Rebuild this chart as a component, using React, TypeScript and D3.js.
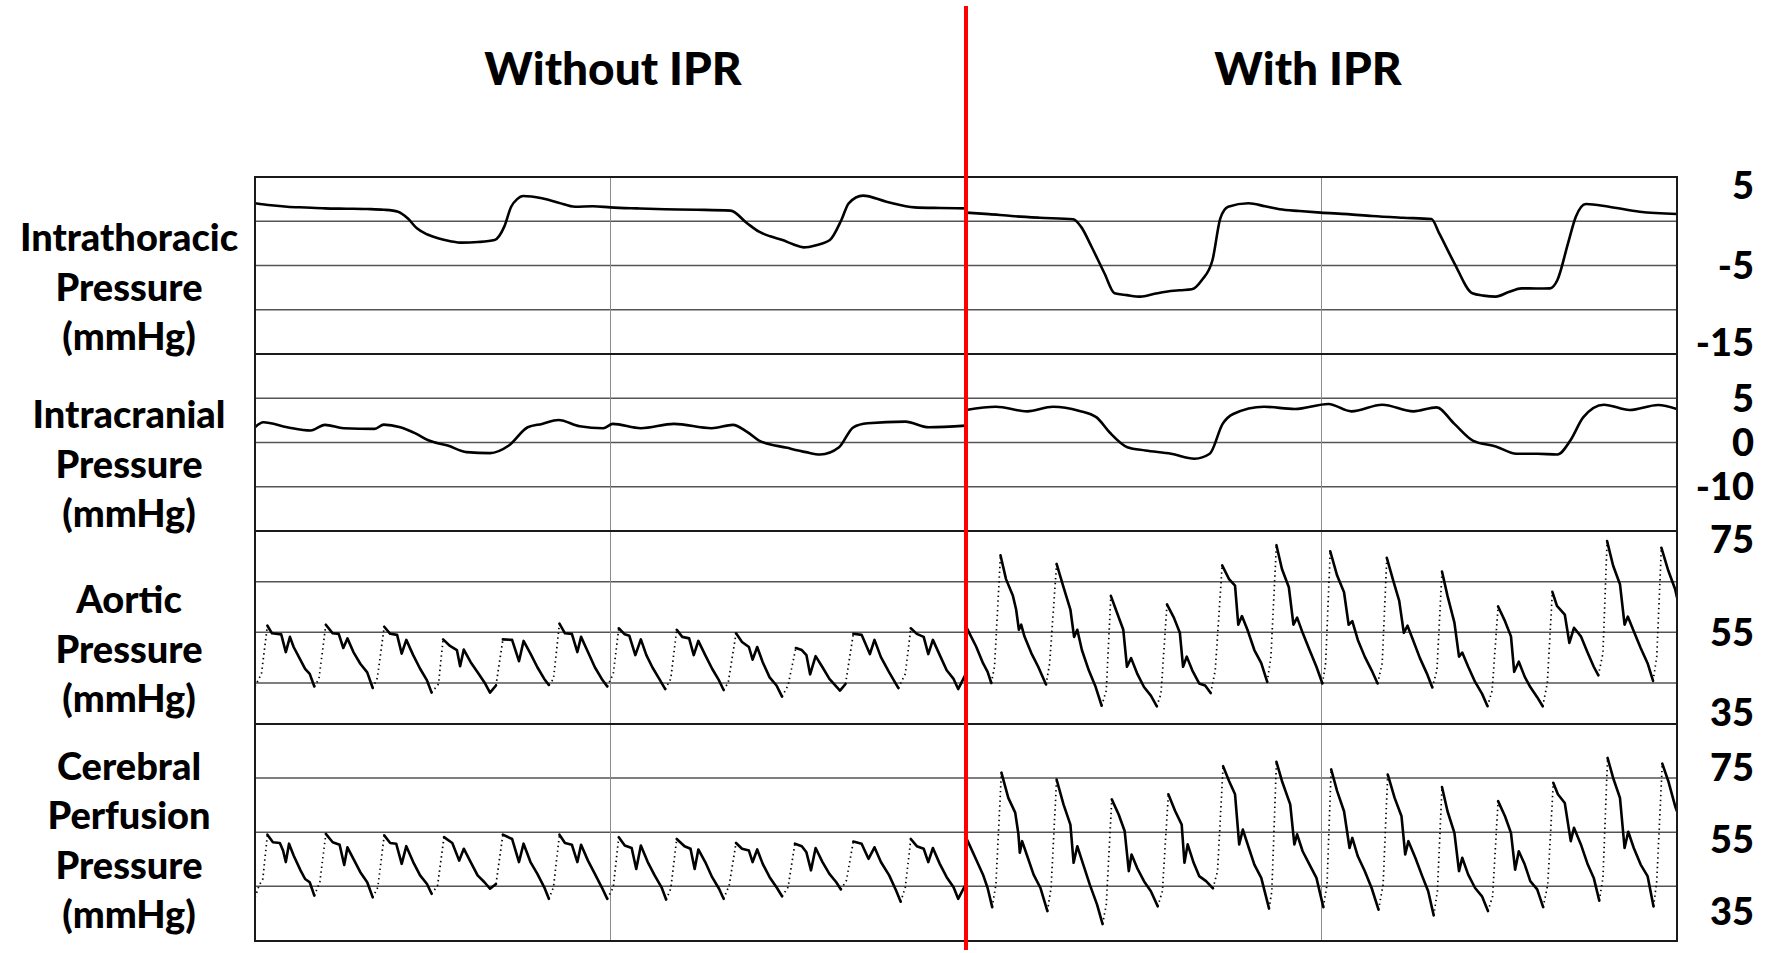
import React from "react";
import * as d3 from "d3";

type Pt = [number, number];

// ---------- DATA (time in s within each recording window, pressures in mmHg) ----------
const TIME_SPAN = 15.46;
const conditions = ["Without IPR", "With IPR"];

const itpName = ["Intrathoracic", "Pressure", "(mmHg)"];
const icpName = ["Intracranial", "Pressure", "(mmHg)"];
const aopName = ["Aortic", "Pressure", "(mmHg)"];
const cppName = ["Cerebral", "Perfusion", "Pressure", "(mmHg)"];

const itpDomain: Pt = [-15, 5];
const itpGrid = [0, -5, -10];
const itpTicks = [5, -5, -15];
const itpTickLabels = ["5", "-5", "-15"];

const icpDomain: Pt = [-10, 10];
const icpGrid = [5, 0, -5];
const icpTicks = [5, 0, -5];
const icpTickLabels = ["5", "0", "-10"];

const aopDomain: Pt = [36.9, 75];
const aopGrid = [65, 55, 45];
const aopTicks = [75, 55, 35];
const aopTickLabels = ["75", "55", "35"];

const cppDomain: Pt = [26.8, 87];
const cppGrid = [72, 57, 42];
const cppTicks = [75, 55, 35];
const cppTickLabels = ["75", "55", "35"];

const itpWithout: Pt[] = [[0,2.03],[0.35,1.8],[0.7,1.64],[1.1,1.55],[1.52,1.46],[2.0,1.42],[2.44,1.38],[2.8,1.3],[3.11,1.08],[3.32,0.33],[3.52,-0.8],[3.75,-1.5],[3.98,-1.93],[4.25,-2.25],[4.5,-2.42],[4.85,-2.35],[5.21,-2.12],[5.42,-0.61],[5.57,1.64],[5.7,2.5],[5.83,2.85],[6.24,2.59],[6.6,2.1],[6.96,1.64],[7.35,1.7],[7.73,1.57],[8.3,1.45],[8.91,1.35],[9.6,1.3],[10.34,1.2],[10.7,-0.23],[10.96,-1.18],[11.2,-1.7],[11.47,-2.12],[11.7,-2.6],[11.93,-2.95],[12.2,-2.7],[12.5,-2.12],[12.75,0.14],[12.91,2.03],[13.22,2.89],[13.73,2.21],[14.34,1.57],[14.9,1.5],[15.46,1.46]];
const itpWith: Pt[] = [[0,0.97],[0.5,0.8],[0.99,0.59],[1.6,0.4],[2.33,0.22],[2.5,-0.61],[2.73,-2.88],[3.01,-5.88],[3.23,-8.14],[3.5,-8.35],[3.79,-8.52],[4.1,-8.2],[4.35,-7.96],[4.65,-7.8],[4.91,-7.69],[5.13,-6.64],[5.36,-4.38],[5.53,0.33],[5.7,1.64],[6.14,2.03],[6.5,1.7],[6.82,1.35],[7.25,1.15],[7.71,0.97],[8.3,0.8],[8.83,0.59],[9.5,0.4],[10.12,0.25],[10.29,-1.37],[10.62,-4.75],[11.01,-8.14],[11.25,-8.4],[11.52,-8.52],[11.8,-8.0],[12.08,-7.58],[12.4,-7.6],[12.7,-7.58],[12.86,-6.64],[13.09,-2.5],[13.26,0.51],[13.48,1.95],[13.98,1.64],[14.65,1.08],[15.46,0.82]];

const icpWithout: Pt[] = [[0,1.72],[0.18,2.28],[0.7,1.72],[1.21,1.35],[1.52,1.99],[1.93,1.61],[2.6,1.54],[2.8,2.02],[3.16,1.72],[3.5,1.0],[3.78,0.22],[4.19,-0.34],[4.6,-1.09],[5.11,-1.2],[5.52,-0.34],[5.93,1.72],[6.24,2.1],[6.6,2.55],[7.06,1.83],[7.57,1.61],[7.78,2.1],[8.39,1.61],[9.11,2.1],[9.93,1.61],[10.39,1.99],[10.7,1.2],[10.96,0.22],[11.57,-0.6],[11.98,-1.09],[12.29,-1.35],[12.7,-0.53],[13.01,1.72],[13.32,2.17],[14.14,2.36],[14.65,1.72],[15.46,1.91]];
const icpWith: Pt[] = [[0,3.67],[0.65,4.04],[1.33,3.52],[1.89,4.04],[2.45,3.6],[2.84,2.84],[3.12,1.16],[3.51,-0.53],[3.9,-0.9],[4.46,-1.27],[4.97,-1.83],[5.3,-1.27],[5.58,2.1],[5.81,3.22],[6.48,4.04],[7.15,3.78],[7.88,4.35],[8.38,3.52],[9.05,4.27],[9.73,3.52],[10.23,3.97],[10.62,2.1],[11.02,0.22],[11.52,-0.45],[11.97,-1.27],[12.42,-1.27],[12.86,-1.35],[13.14,0.22],[13.42,2.84],[13.87,4.27],[14.43,3.67],[15.05,4.24],[15.46,3.78]];

const aopWithout: Pt[] = [[0,44.3],[0.14,46.8],[0.27,56.3],[0.37,54.8],[0.57,54.6],[0.67,51.1],[0.76,54.1],[0.84,52.1],[0.99,49.5],[1.09,47.8],[1.19,46.8],[1.29,44.3],[1.39,45.8],
[1.54,56.5],[1.69,54.8],[1.82,54.7],[1.92,51.9],[2.01,53.8],[2.14,51.1],[2.29,48.8],[2.44,47.1],[2.56,44.0],[2.66,46.0],
[2.81,56.1],[2.94,54.7],[3.09,54.5],[3.19,50.8],[3.29,53.5],[3.44,50.5],[3.59,47.8],[3.74,45.5],[3.84,43.1],[3.99,44.8],
[4.09,53.6],[4.24,52.3],[4.39,51.5],[4.46,48.3],[4.54,51.6],[4.69,49.1],[4.84,47.1],[4.99,45.1],[5.11,43.1],[5.24,44.5],
[5.39,53.6],[5.59,53.5],[5.74,49.3],[5.84,53.3],[5.99,50.8],[6.14,48.1],[6.29,45.8],[6.39,44.6],[6.49,45.8],
[6.62,56.7],[6.74,54.8],[6.89,54.7],[7.01,51.1],[7.09,54.1],[7.24,51.1],[7.39,48.1],[7.54,45.8],[7.66,44.3],[7.79,46.8],
[7.91,55.8],[8.04,54.6],[8.14,54.3],[8.27,50.5],[8.39,53.6],[8.51,50.5],[8.64,48.1],[8.79,45.8],[8.92,43.8],[9.04,45.8],
[9.17,55.5],[9.29,54.1],[9.44,53.8],[9.54,50.5],[9.64,53.3],[9.79,50.5],[9.94,47.8],[10.09,45.5],[10.19,43.6],[10.29,45.1],
[10.46,54.8],[10.59,53.1],[10.74,52.1],[10.82,49.6],[10.92,52.1],[11.04,49.1],[11.19,46.1],[11.34,44.5],[11.46,42.3],[11.59,44.5],
[11.76,51.9],[11.89,51.5],[11.99,50.5],[12.07,46.7],[12.19,50.3],[12.34,48.1],[12.49,45.8],[12.72,43.5],[12.84,44.8],
[13.01,54.7],[13.19,54.5],[13.37,50.7],[13.47,53.5],[13.61,50.1],[13.79,47.1],[13.99,44.0],[14.14,46.8],
[14.26,55.8],[14.39,54.7],[14.54,54.1],[14.64,50.7],[14.74,53.5],[14.89,50.5],[15.04,47.5],[15.19,45.8],[15.29,43.8],[15.44,46.5]];

const aopWith: Pt[] = [[0,56.2],[0.07,54.9],[0.22,52.2],[0.37,48.9],[0.47,47.2],[0.55,45.0],[0.62,48.2],[0.75,70.2],[0.87,65.5],[1.02,62.2],[1.09,59.5],[1.15,55.5],[1.2,56.5],[1.27,54.2],[1.42,50.9],[1.57,48.2],[1.74,44.7],[1.82,48.9],
[1.97,68.5],[2.12,63.9],[2.27,59.5],[2.35,54.1],[2.42,55.5],[2.52,51.5],[2.67,47.5],[2.82,44.2],[2.95,40.5],[3.05,43.5],
[3.15,62.2],[3.27,59.2],[3.42,55.5],[3.5,48.2],[3.59,49.9],[3.72,46.9],[3.87,44.2],[4.02,42.5],[4.15,40.4],[4.24,42.9],
[4.37,60.5],[4.52,57.9],[4.65,54.9],[4.72,48.2],[4.8,50.2],[4.92,47.5],[5.07,44.9],[5.2,44.5],[5.32,43.0],[5.42,47.5],
[5.57,68.2],[5.72,65.5],[5.85,64.2],[5.92,56.5],[6.0,58.2],[6.12,55.5],[6.27,51.5],[6.42,48.9],[6.55,45.2],[6.63,50.2],
[6.75,72.2],[6.87,67.5],[7.02,63.9],[7.12,56.5],[7.2,57.9],[7.32,54.9],[7.47,51.5],[7.62,48.2],[7.75,44.9],[7.82,48.9],
[7.92,71.0],[8.07,66.2],[8.22,62.9],[8.32,56.5],[8.4,57.2],[8.52,53.5],[8.67,50.2],[8.82,47.5],[8.95,44.9],[9.05,48.9],
[9.15,69.7],[9.29,65.2],[9.42,61.2],[9.52,54.9],[9.6,56.3],[9.72,53.5],[9.87,49.9],[10.02,46.9],[10.14,44.1],[10.24,47.5],
[10.35,67.0],[10.47,62.2],[10.62,56.9],[10.72,50.2],[10.79,51.0],[10.92,48.2],[11.07,45.2],[11.22,42.9],[11.34,40.4],[11.44,43.5],
[11.57,60.1],[11.72,57.2],[11.85,54.2],[11.92,47.2],[12.02,49.2],[12.15,46.2],[12.27,44.2],[12.42,42.2],[12.54,40.4],[12.64,44.9],
[12.75,63.0],[12.85,60.2],[13.02,58.5],[13.12,52.9],[13.22,55.9],[13.37,54.2],[13.52,50.9],[13.65,48.2],[13.75,46.5],[13.85,50.9],
[13.94,73.0],[14.07,68.2],[14.22,64.5],[14.32,56.5],[14.39,58.1],[14.52,55.2],[14.67,51.9],[14.82,48.9],[14.94,45.4],[15.02,50.2],
[15.12,71.7],[15.27,67.2],[15.42,63.5],[15.46,61.9]];

const cppWithout: Pt[] = [[0,38.9],[0.09,42.2],[0.17,44.0],[0.27,56.3],[0.39,54.2],[0.54,54.0],[0.61,51.9],[0.67,48.7],[0.74,53.8],[0.84,50.5],[0.99,46.4],[1.09,44.0],[1.19,43.1],[1.29,39.4],[1.41,43.1],
[1.54,56.5],[1.69,54.2],[1.84,53.5],[1.94,47.9],[2.01,52.8],[2.14,49.6],[2.29,45.9],[2.44,43.1],[2.56,38.9],[2.67,41.7],
[2.81,56.1],[2.94,54.0],[3.07,53.8],[3.19,48.2],[3.29,53.1],[3.44,48.7],[3.59,45.0],[3.74,42.6],[3.84,39.9],[3.97,42.2],
[4.11,55.6],[4.29,54.0],[4.44,49.1],[4.54,52.4],[4.69,48.7],[4.84,45.0],[4.99,43.1],[5.11,41.3],[5.24,42.6],
[5.39,56.3],[5.59,55.1],[5.74,48.7],[5.84,53.8],[5.99,48.7],[6.14,45.4],[6.29,41.7],[6.39,38.5],[6.49,41.7],
[6.62,56.3],[6.74,54.0],[6.89,53.5],[7.01,48.7],[7.09,53.5],[7.24,49.1],[7.39,45.4],[7.54,41.7],[7.66,38.5],[7.79,41.7],
[7.91,55.6],[8.04,53.3],[8.19,52.6],[8.29,46.8],[8.39,53.3],[8.54,48.7],[8.69,45.0],[8.84,41.7],[8.94,38.3],[9.04,41.3],
[9.17,55.1],[9.34,53.1],[9.47,52.4],[9.56,46.8],[9.64,52.2],[9.79,48.7],[9.94,44.5],[10.09,41.3],[10.19,38.5],[10.31,42.2],
[10.46,54.0],[10.59,52.4],[10.74,51.9],[10.82,48.7],[10.92,52.2],[11.04,48.2],[11.19,44.5],[11.34,41.7],[11.46,39.2],[11.59,41.7],
[11.74,53.8],[11.89,53.1],[11.99,51.4],[12.09,46.4],[12.19,52.6],[12.34,48.7],[12.49,45.4],[12.64,43.1],[12.74,41.1],[12.86,43.6],
[13.01,54.4],[13.19,53.8],[13.34,49.6],[13.47,52.8],[13.61,48.7],[13.79,45.0],[13.94,40.8],[14.04,37.7],[14.14,41.7],
[14.26,55.1],[14.39,53.1],[14.54,52.4],[14.64,48.7],[14.74,52.6],[14.89,48.2],[15.04,44.5],[15.19,41.7],[15.29,38.5],[15.44,42.2]];

const cppWith: Pt[] = [[0,55.5],[0.07,53.6],[0.22,49.4],[0.37,45.2],[0.47,41.5],[0.57,36.2],[0.65,42.5],[0.77,73.5],[0.92,66.5],[1.07,62.4],[1.14,56.4],[1.17,51.3],[1.22,54.5],[1.32,50.8],[1.47,45.2],[1.62,41.5],[1.77,35.1],[1.85,41.5],
[1.97,71.6],[2.12,64.7],[2.27,59.1],[2.34,48.5],[2.42,53.1],[2.55,48.0],[2.69,42.5],[2.85,36.9],[2.97,31.5],[3.05,36.9],
[3.17,66.1],[3.32,61.9],[3.45,57.3],[3.54,46.2],[3.6,50.8],[3.72,47.1],[3.87,43.4],[4.02,40.6],[4.17,36.4],[4.27,40.6],
[4.4,67.5],[4.55,62.8],[4.69,59.1],[4.75,48.5],[4.82,53.6],[4.95,48.5],[5.07,44.8],[5.22,43.4],[5.37,41.4],[5.47,46.2],
[5.59,75.3],[5.72,71.2],[5.85,67.5],[5.94,53.6],[6.02,57.7],[6.15,52.6],[6.27,48.0],[6.42,44.3],[6.59,35.8],[6.65,40.6],
[6.75,76.5],[6.87,71.2],[7.05,64.7],[7.14,53.6],[7.2,56.4],[7.32,51.7],[7.47,48.0],[7.62,44.3],[7.77,36.2],[7.85,42.5],
[7.94,74.4],[8.07,68.4],[8.22,62.8],[8.34,52.6],[8.4,55.4],[8.52,50.3],[8.67,46.2],[8.82,41.5],[8.97,35.5],[9.07,42.5],
[9.17,73.0],[9.32,66.5],[9.47,61.4],[9.55,50.8],[9.62,54.5],[9.77,49.9],[9.92,44.8],[10.05,40.6],[10.17,33.9],[10.25,40.6],
[10.35,69.5],[10.47,62.8],[10.62,56.8],[10.72,46.2],[10.79,49.9],[10.92,45.2],[11.07,41.5],[11.22,39.2],[11.35,35.1],[11.45,39.2],
[11.57,65.6],[11.72,61.4],[11.85,56.8],[11.94,46.6],[12.02,51.7],[12.15,48.0],[12.27,43.4],[12.42,41.1],[12.55,36.2],[12.65,42.5],
[12.77,70.7],[12.87,67.5],[13.02,65.1],[13.15,54.5],[13.22,58.2],[13.37,53.6],[13.52,48.0],[13.65,44.3],[13.77,38.0],[13.85,44.3],
[13.95,77.6],[14.07,72.1],[14.22,66.5],[14.32,52.6],[14.4,57.1],[14.52,52.6],[14.67,48.0],[14.82,44.8],[14.95,36.4],[15.02,43.4],
[15.14,76.0],[15.27,71.2],[15.42,64.2],[15.46,62.8]];

// ---------- LAYOUT / STYLE ----------
const W = 1768;
const H = 953;
const PANEL_X = [255, 966];
const PANEL_W = 711;
const ROWS = [
  { top: 177, bottom: 354 },
  { top: 354, bottom: 531 },
  { top: 531, bottom: 724 },
  { top: 724, bottom: 941 },
];
const TITLE_X = [613, 1308];
const TITLE_Y = 85;
const LABEL_CX = 129;
const LABEL_LINE = 49.5;
const LABEL_LAST_MAX = 928;
const TICK_X = 1754;
const DIVIDER_X = 966;
const FONT = "Lato, 'Noto Sans', 'DejaVu Sans', sans-serif";

const channels = [
  { name: itpName, domain: itpDomain, grid: itpGrid, ticks: itpTicks, tickLabels: itpTickLabels, series: [itpWithout, itpWith], pulsatile: false },
  { name: icpName, domain: icpDomain, grid: icpGrid, ticks: icpTicks, tickLabels: icpTickLabels, series: [icpWithout, icpWith], pulsatile: false },
  { name: aopName, domain: aopDomain, grid: aopGrid, ticks: aopTicks, tickLabels: aopTickLabels, series: [aopWithout, aopWith], pulsatile: true },
  { name: cppName, domain: cppDomain, grid: cppGrid, ticks: cppTicks, tickLabels: cppTickLabels, series: [cppWithout, cppWith], pulsatile: true },
];

type Run = { steep: boolean; pts: Pt[] };

// Systolic upstrokes (large monotonic rises) are drawn as sparse sample dots, like the recorder does.
function splitRuns(data: Pt[], x: d3.ScaleLinear<number, number>, y: d3.ScaleLinear<number, number>, pulsatile: boolean): Run[] {
  const px: Pt[] = data.map((d) => [x(d[0]), y(d[1])]);
  const n = px.length;
  const steep: boolean[] = new Array(Math.max(0, n - 1)).fill(false);
  if (pulsatile) {
    let i = 0;
    while (i < n - 1) {
      if (px[i + 1][1] < px[i][1]) {
        let j = i;
        while (j < n - 1 && px[j + 1][1] < px[j][1]) j++;
        const total = px[i][1] - px[j][1];
        if (total > 30) {
          for (let k = i; k < j; k++) {
            const rise = px[k][1] - px[k + 1][1];
            if (rise > 1.2 * (px[k + 1][0] - px[k][0])) steep[k] = true;
          }
        }
        i = j;
      } else i++;
    }
  }
  const runs: Run[] = [];
  for (let k = 0; k < n - 1; k++) {
    const last = runs[runs.length - 1];
    if (last && last.steep === steep[k]) last.pts.push(px[k + 1]);
    else runs.push({ steep: steep[k], pts: [px[k], px[k + 1]] });
  }
  return runs;
}

const straight = d3.line<Pt>().x((d) => d[0]).y((d) => d[1]);
const smooth = d3.line<Pt>().x((d) => d[0]).y((d) => d[1]).curve(d3.curveMonotoneX);

export default function App() {
  return (
    <svg
      width={W}
      height={H}
      viewBox={`0 0 ${W} ${H}`}
      style={{ position: "absolute", left: 0, top: 0, background: "#fff" }}
      fontFamily={FONT}
      fontWeight={900}
    >
      <defs>
        {channels.map((ch, r) =>
          PANEL_X.map((px, c) => (
            <clipPath id={`clip-${r}-${c}`} key={`cp-${r}-${c}`}>
              <rect x={px} y={ROWS[r].top} width={PANEL_W} height={ROWS[r].bottom - ROWS[r].top} />
            </clipPath>
          ))
        )}
      </defs>

      {conditions.map((t, i) => (
        <text key={t} x={TITLE_X[i]} y={TITLE_Y} textAnchor="middle" fontSize={46} fill="#000">
          {t}
        </text>
      ))}

      {channels.map((ch, r) => {
        const row = ROWS[r];
        const y = d3.scaleLinear().domain(ch.domain).range([row.bottom, row.top]);
        const lineGen = ch.pulsatile ? straight : smooth;
        return (
          <g key={`ch-${r}`}>
            {PANEL_X.map((px, c) => {
              const x = d3.scaleLinear().domain([0, TIME_SPAN]).range([px, px + PANEL_W]);
              const runs = splitRuns(ch.series[c], x, y, ch.pulsatile);
              const mid = x(TIME_SPAN / 2);
              return (
                <g key={`p-${r}-${c}`}>
                  {ch.grid.map((g) => (
                    <line key={g} x1={px} x2={px + PANEL_W} y1={y(g)} y2={y(g)} stroke="#555" strokeWidth={1.5} />
                  ))}
                  <line x1={mid} x2={mid} y1={row.top} y2={row.bottom} stroke="#8c8c8c" strokeWidth={1} />
                  <g clipPath={`url(#clip-${r}-${c})`}>
                    {runs.map((run, k) => (
                      <path
                        key={k}
                        d={lineGen(run.pts) || ""}
                        fill="none"
                        stroke="#000"
                        strokeWidth={run.steep ? 1.7 : 2.6}
                        strokeDasharray={run.steep ? "1.4 3.4" : undefined}
                        strokeLinejoin="round"
                        strokeLinecap={run.steep ? "butt" : "round"}
                      />
                    ))}
                  </g>
                  <rect x={px} y={row.top} width={PANEL_W} height={row.bottom - row.top} fill="none" stroke="#1a1a1a" strokeWidth={2} />
                </g>
              );
            })}

            {(() => {
              const n = ch.name.length;
              const center = (row.top + row.bottom) / 2;
              let first = center + 35 - LABEL_LINE;
              const lastB = first + (n - 1) * LABEL_LINE;
              if (lastB > LABEL_LAST_MAX) first -= lastB - LABEL_LAST_MAX;
              return ch.name.map((s, i) => (
                <text key={s + i} x={LABEL_CX} y={first + i * LABEL_LINE} textAnchor="middle" fontSize={38} fill="#000">
                  {s}
                </text>
              ));
            })()}

            {ch.ticks.map((tv, i) => {
              const yy = Math.max(row.top + 8, Math.min(row.bottom - 12, y(tv)));
              return (
                <text key={`t-${i}`} x={TICK_X} y={yy} dy="0.36em" textAnchor="end" fontSize={38} fill="#000">
                  {ch.tickLabels[i]}
                </text>
              );
            })}
          </g>
        );
      })}

      <line x1={DIVIDER_X} x2={DIVIDER_X} y1={6} y2={950} stroke="#ff0000" strokeWidth={4} />
    </svg>
  );
}
